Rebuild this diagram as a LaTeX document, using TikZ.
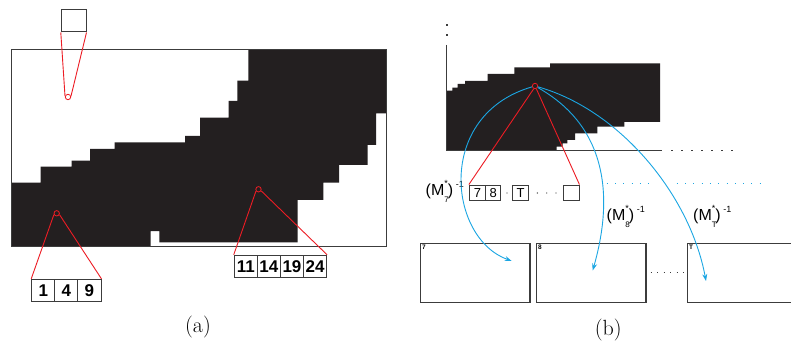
\documentclass[tikz,border=0pt]{standalone}
\usepackage{fontspec}
\setsansfont{Liberation Sans}
\usetikzlibrary{arrows.meta}
\definecolor{blk}{HTML}{231F20}
\definecolor{edge}{HTML}{3C3C3C}
\definecolor{rd}{HTML}{ED1C24}
\definecolor{bl}{HTML}{1BA6E3}
\newcommand{\Minv}[1]{(M\rlap{\raisebox{-0.8ex}{\fontsize{8}{8}\selectfont #1}}\raisebox{1.1ex}{\fontsize{9}{9}\selectfont *})\,\raisebox{0.95ex}{\fontsize{9}{9}\selectfont -1}}
\tikzset{
  numbox/.style={draw=edge, line width=1pt, inner sep=0pt, minimum width=23.1pt, minimum height=22.2pt,
    font=\sffamily\bfseries\fontsize{17}{17}\selectfont},
  smallbox/.style={draw=edge, line width=0.9pt, inner sep=0pt, minimum height=15.7pt,
    font=\sffamily\fontsize{13}{13}\selectfont},
  bigbox/.style={draw=edge, line width=1.1pt, inner sep=0pt, minimum height=59pt},
  boxlabel/.style={anchor=north west, inner sep=1.8pt, font=\sffamily\bfseries\fontsize{6.5}{6.5}\selectfont},
  ring/.style={circle, draw=rd, line width=0.8pt, minimum size=5.4pt, inner sep=0pt},
  redline/.style={draw=rd, line width=0.9pt},
  bluearc/.style={draw=bl, line width=0.9pt, -{Stealth[length=7pt,width=5pt]}},
  minv/.style={anchor=west, inner sep=0pt, font=\sffamily\fontsize{16}{16}\selectfont},
  caption/.style={font=\fontsize{22}{26}\selectfont}
}
\begin{document}
\begin{tikzpicture}[x=1pt,y=-1pt]
\useasboundingbox (0,0) rectangle (791,347);
\fill[white] (0,0) rectangle (791,347);

% ---------------- (a) ----------------
\fill[blk] (248.3,49.3) -- (386.7,49.3) -- (386.7,113.3) -- (376,113.3) -- (376,145) -- (367.7,145)
  -- (367.7,165) -- (339,165) -- (339,182.7) -- (323.3,182.7) -- (323.3,200) -- (297.7,200)
  -- (297.7,242.3) -- (159.3,242.3) -- (159.3,231) -- (150.7,231) -- (150.7,246.7) -- (11.3,246.7)
  -- (11.3,182.7) -- (40.7,182.7) -- (40.7,166.7) -- (71.7,166.7) -- (71.7,160.7) -- (90,160.7)
  -- (90,149) -- (114.7,149) -- (114.7,142.3) -- (185,142.3) -- (185,136) -- (200,136)
  -- (200,117.7) -- (228.7,117.7) -- (228.7,101) -- (237.3,101) -- (237.3,80.7) -- (248.3,80.7) -- cycle;
\draw[edge, line width=1.2pt] (11.3,49.3) rectangle (386.7,246.7);

\node[numbox, minimum width=24.7pt, minimum height=22pt] (tb) at (73.65,21) {};
\node[ring] (c1) at (68,97) {};
\draw[redline] (tb.south west) -- (c1.165);
\draw[redline] (tb.south east) -- (c1.15);

\node[numbox] (n1) at (43.25,290.5) {1};
\node[numbox] (n4) at (66.35,290.5) {4};
\node[numbox] (n9) at (89.45,290.5) {9};
\node[ring] (c2) at (56.7,213.3) {};
\draw[redline] (c2.205) -- (n1.north west);
\draw[redline] (c2.335) -- (n9.north east);

\node[numbox, minimum height=22pt] (n11) at (245.75,266.3) {11};
\node[numbox, minimum height=22pt] (n14) at (268.85,266.3) {14};
\node[numbox, minimum height=22pt] (n19) at (291.95,266.3) {19};
\node[numbox, minimum height=22pt] (n24) at (315.05,266.3) {24};
\node[ring] (c3) at (258.5,189.3) {};
\draw[redline] (c3.215) -- (n11.north west);
\draw[redline] (c3.330) -- (n24.north east);

\node[caption] (la) at (198,327.5) {(a)};

% ---------------- (b) ----------------
\fill[blk] (446.7,90.7) -- (452.3,90.7) -- (452.3,87.7) -- (457.7,87.7) -- (457.7,84) -- (465,84)
  -- (465,81) -- (487.7,81) -- (487.7,74) -- (514.3,74) -- (514.3,67.3) -- (550,67.3) -- (550,63.3)
  -- (660,63.3) -- (660,122) -- (624.3,122) -- (624.3,126.7) -- (597.3,126.7) -- (597.3,133.3)
  -- (575,133.3) -- (575,140) -- (567.3,140) -- (567.3,143.3) -- (562.7,143.3) -- (562.7,146.7)
  -- (556.7,146.7) -- (556.7,150.5) -- (446.7,150.5) -- cycle;
\coordinate (axy) at (446.7,45);
\coordinate (ax0) at (446.7,150.5);
\coordinate (axx) at (661.7,150.5);
\draw[edge, line width=1.5pt] (axy) -- (ax0) -- (axx);
\draw[edge, line width=1.5pt, dash pattern=on 1.5pt off 8.5pt] ([xshift=9.5pt]axx) -- ([xshift=75pt]axx);
\fill[edge] (445.9,24.2) rectangle (447.5,25.8);
\fill[edge] (445.9,34.2) rectangle (447.5,35.8);

\node[ring] (c4) at (535,86) {};

\node[smallbox, minimum width=16.4pt] (b7) at (477.5,192.85) {7};
\node[smallbox, minimum width=15pt] (b8) at (493.2,192.85) {8};
\node[smallbox, minimum width=16pt] (bT) at (520.7,192.85) {T};
\node[smallbox, minimum width=15.7pt] (bE) at (571.15,192.85) {};
\foreach \x in {507,537.3,546.7,556} \fill[edge] (\x,193) circle (0.7);

\draw[redline] (c4.245) -- (b7.north west);
\draw[redline] (c4.295) -- (bE.north east);

\node[minv] (m7) at (425.5,191) {\Minv{7}};
\node[minv] (m8) at (606.5,216.5) {\Minv{8}};
\node[minv] (mT) at (693,216.5) {\Minv{T}};

\coordinate (d1a) at (606.7,183.3);
\coordinate (d1b) at (656,183.3);
\coordinate (d2a) at (676.7,183.3);
\coordinate (d2b) at (762,183.3);
\draw[bl, line width=1pt, dash pattern=on 1pt off 7.3pt] (d1a) -- (d1b);
\draw[bl, line width=1pt, dash pattern=on 1pt off 7.3pt] (d2a) -- (d2b);

\node[bigbox, minimum width=109.3pt] (bx7) at (475.35,272.8) {};
\node[bigbox, minimum width=109.3pt] (bx8) at (591.35,272.8) {};
\node[bigbox, minimum width=115pt] (bxT) at (745.2,272.8) {};
\node[boxlabel] at (bx7.north west) {7};
\node[boxlabel] at (bx8.north west) {8};
\node[boxlabel] at (bxT.north west) {T};
\draw[edge, line width=1pt, dash pattern=on 1pt off 5.5pt] ([xshift=4pt]bx8.east) -- ([xshift=-2pt]bxT.west);

\coordinate (e7) at (511.7,261);
\coordinate (e8) at (592.7,270.5);
\coordinate (eT) at (706,281);
\draw[bluearc] (c4) .. controls (435,115) and (448,238) .. (e7);
\draw[bluearc] (c4) .. controls (615,131) and (610,210) .. (e8);
\draw[bluearc] (c4) .. controls (620,110) and (690,195) .. (eT);

\node[caption] (lb) at (608.3,330) {(b)};
\end{tikzpicture}
\end{document}
